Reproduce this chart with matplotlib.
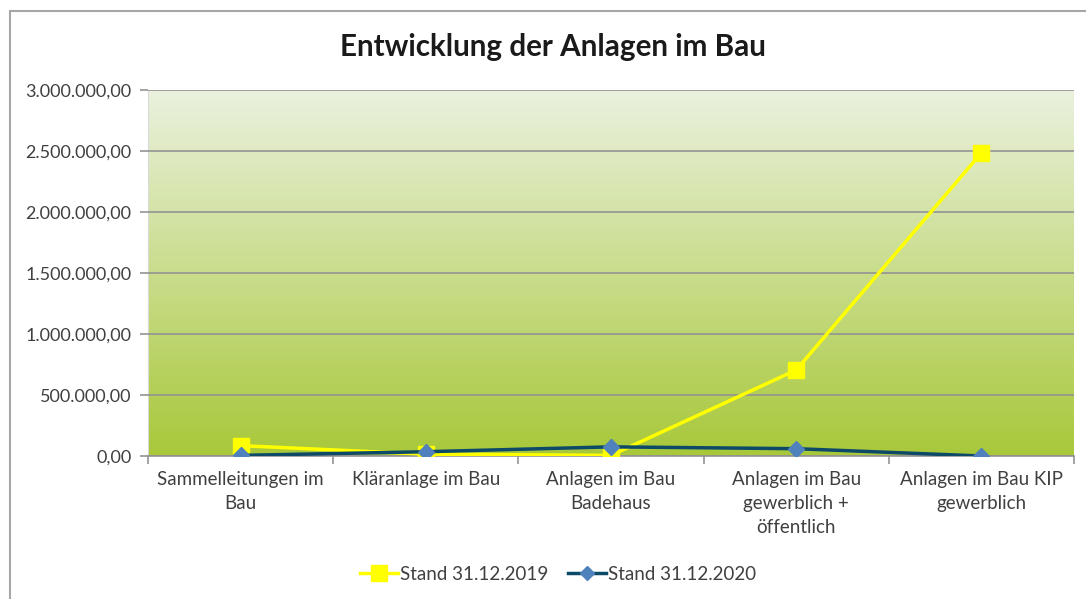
import matplotlib
matplotlib.use("Agg")
import matplotlib.pyplot as plt
import numpy as np
from matplotlib.ticker import FuncFormatter, FixedLocator
from matplotlib.patches import Rectangle
from matplotlib.lines import Line2D

categories = ["Sammelleitungen im\nBau", "Kläranlage im Bau", "Anlagen im Bau\nBadehaus",
              "Anlagen im Bau\ngewerblich +\nöffentlich", "Anlagen im Bau KIP\ngewerblich"]
stand_2019 = [85000, 15000, 5000, 705000, 2485000]
stand_2020 = [5000, 35000, 75000, 60000, 0]
series_names = ["Stand 31.12.2019", "Stand 31.12.2020"]
yticks = [0, 500000, 1000000, 1500000, 2000000, 2500000, 3000000]

plt.rcParams['font.family'] = ['Lato', 'DejaVu Sans']

fig = plt.figure(figsize=(10.86, 5.99), dpi=100)
fig.patch.set_facecolor('white')
# outer border
fig.add_artist(Rectangle((10/1086, -0.05), 1.2, (599-11)/599 + 0.05, transform=fig.transFigure,
                         fill=False, edgecolor='#a6a6a6', linewidth=1.5))

ax = fig.add_axes([148/1086, (599-456)/599, (1074-148)/1086, (456-90)/599])

# gradient background
grad = np.linspace(0, 1, 256).reshape(-1, 1)
top = np.array([234, 241, 222]) / 255
bot = np.array([168, 200, 58]) / 255
img = top[None, None, :] * (1 - grad[:, :, None]) + bot[None, None, :] * grad[:, :, None]
ax.imshow(img, extent=[0, 1, 0, 1], transform=ax.transAxes, aspect='auto', zorder=0)

x = np.arange(len(categories))
ax.set_xlim(-0.5, len(categories) - 0.5)
ax.set_ylim(0, 3000000)

ax.yaxis.set_major_locator(FixedLocator(yticks))
def fmt(v, pos):
    s = f"{v:,.2f}"
    return s.replace(",", "X").replace(".", ",").replace("X", ".")
ax.yaxis.set_major_formatter(FuncFormatter(fmt))
ax.grid(axis='y', color='#939393', linewidth=1.2, zorder=1)
ax.set_axisbelow(False)

ax.plot(x, stand_2019, color='#ffff00', linewidth=2.5, marker='s', markersize=11,
        markerfacecolor='#ffff00', markeredgecolor='#ffff00', zorder=3, label=series_names[0])
ax.plot(x, stand_2020, color='#0d4a68', linewidth=2.5, marker='D', markersize=8,
        markerfacecolor='#4f81bd', markeredgecolor='#4f81bd', zorder=4, label=series_names[1])

ax.set_xticks(x)
ax.set_xticklabels(categories, fontsize=13.5, color='#404040', linespacing=1.5)
ax.set_xticks(np.arange(-0.5, len(categories)), minor=True)
ax.tick_params(axis='x', which='major', length=0, pad=11)
ax.tick_params(axis='x', which='minor', length=6, color='#939393', width=1.2)
ax.tick_params(axis='y', length=6, color='#939393', width=1.2, labelsize=13, labelcolor='#404040', pad=6)

for s in ['top', 'right']:
    ax.spines[s].set_visible(False)
ax.spines['left'].set_color('#d9d9d9')
ax.spines['bottom'].set_color('#939393')
ax.spines['bottom'].set_linewidth(1.2)

fig.text(553/1086, 1 - 47/599, "Entwicklung der Anlagen im Bau", ha='center', va='center',
         fontsize=21.3, fontweight='bold', color='#1a1a1a')

handles = [Line2D([], [], color='#ffff00', linewidth=2.5, marker='s', markersize=11,
                  markerfacecolor='#ffff00', markeredgecolor='#ffff00'),
           Line2D([], [], color='#0d4a68', linewidth=2.5, marker='D', markersize=7,
                  markerfacecolor='#4f81bd', markeredgecolor='#4f81bd')]
fig.legend(handles, series_names, loc='center', bbox_to_anchor=(558/1086, 1 - 574/599), ncol=2,
           frameon=False, fontsize=13.5, handlelength=2.0, handletextpad=0.1, columnspacing=1.1,
           labelcolor='#404040')

fig.savefig("out.png", dpi=100, facecolor='white')
